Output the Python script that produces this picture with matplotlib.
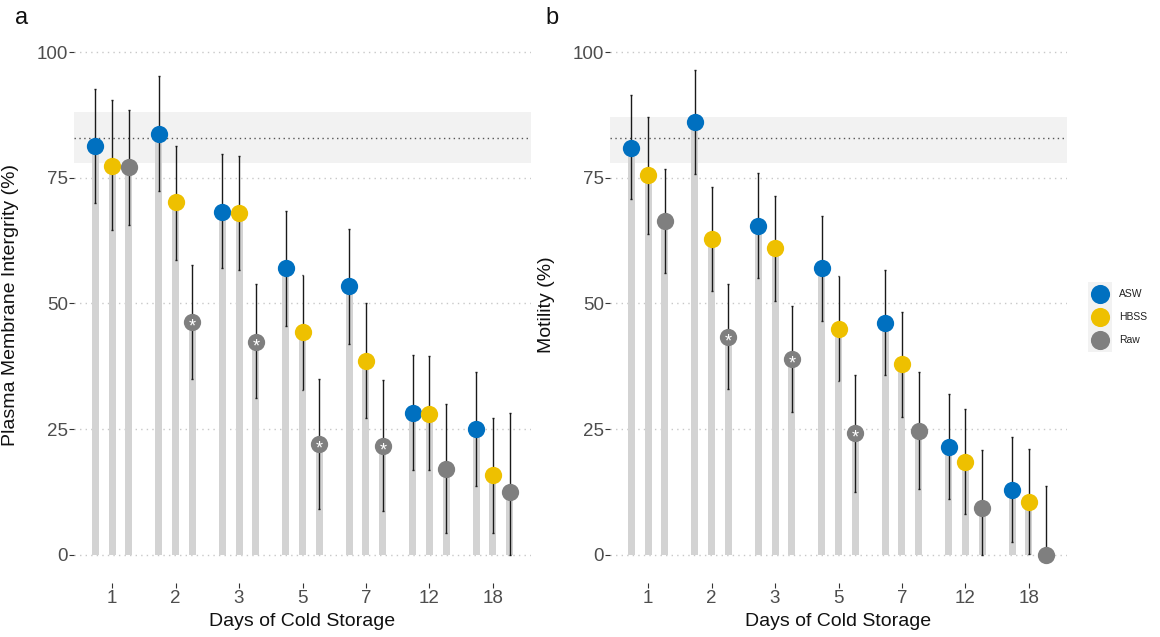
import matplotlib
matplotlib.use("Agg")
import matplotlib.pyplot as plt
import numpy as np

plt.rcParams['font.family'] = ['Liberation Sans', 'DejaVu Sans']

days = ['1', '2', '3', '5', '7', '12', '18']
groups = ['ASW', 'HBSS', 'Raw']
colors = {'ASW': '#0070C0', 'HBSS': '#EEC000', 'Raw': '#7F7F7F'}

# panel a: plasma membrane integrity (%)
pmi_mean = {
    'ASW':  [81.4, 83.8, 68.2, 57.0, 53.4, 28.2, 25.0],
    'HBSS': [77.4, 70.1, 68.1, 44.3, 38.6, 28.1, 15.8],
    'Raw':  [77.1, 46.3, 42.4, 22.1, 21.7, 17.1, 12.5],
}
pmi_lo = {
    'ASW':  [70.0, 72.4, 57.0, 45.6, 42.0, 16.9, 13.7],
    'HBSS': [64.7, 58.7, 56.7, 32.8, 27.2, 16.8, 4.4],
    'Raw':  [65.6, 34.9, 31.2, 9.1, 8.8, 4.3, 0.0],
}
pmi_hi = {
    'ASW':  [92.6, 95.2, 79.7, 68.4, 64.8, 39.8, 36.4],
    'HBSS': [90.4, 81.4, 79.4, 55.7, 50.1, 39.6, 27.2],
    'Raw':  [88.4, 57.7, 53.9, 34.9, 34.7, 30.0, 28.2],
}
pmi_sig = [1, 2, 3, 4]          # Raw days marked with *
pmi_fresh = (83.0, 78.0, 88.0)  # fresh reference mean, band low, band high

# panel b: motility (%)
mot_mean = {
    'ASW':  [81.0, 86.1, 65.5, 57.0, 46.2, 21.5, 12.9],
    'HBSS': [75.5, 62.8, 61.0, 44.9, 37.9, 18.5, 10.5],
    'Raw':  [66.4, 43.4, 38.9, 24.2, 24.7, 9.3, 0.0],
}
mot_lo = {
    'ASW':  [70.8, 75.8, 55.0, 46.6, 35.7, 11.1, 2.5],
    'HBSS': [63.8, 52.4, 50.5, 34.5, 27.4, 8.1, 0.2],
    'Raw':  [56.0, 33.0, 28.5, 12.5, 13.1, 0.0, 0.0],
}
mot_hi = {
    'ASW':  [91.5, 96.5, 75.9, 67.4, 56.6, 32.0, 23.4],
    'HBSS': [87.1, 73.2, 71.4, 55.4, 48.4, 29.0, 21.0],
    'Raw':  [76.8, 53.8, 49.5, 35.7, 36.4, 20.9, 13.6],
}
mot_sig = [1, 2, 3]
mot_fresh = (83.0, 78.0, 87.0)

W, H = 1160, 637
fig = plt.figure(figsize=(W / 100, H / 100), dpi=100)


def px_axes(left, right, top, bottom):
    return fig.add_axes([left / W, 1 - bottom / H, (right - left) / W, (bottom - top) / H])


def panel(ax, mean, lo, hi, sig, fresh, ylabel, letter, letter_x):
    x = np.arange(len(days))
    offs = {'ASW': -0.265, 'HBSS': 0.0, 'Raw': 0.265}
    ax.axhspan(fresh[1], fresh[2], color='#F2F2F2', zorder=0, lw=0)
    for v in [0, 25, 50, 75, 100]:
        ax.axhline(v, color='#C8C8C8', lw=1.0, ls=(0, (1, 3)), zorder=0.5)
    ax.axhline(fresh[0], color='#555555', lw=1.0, ls=(0, (1, 2.5)), zorder=0.6)
    for g in groups:
        xs = x + offs[g]
        m = np.array(mean[g])
        ax.bar(xs, m, width=0.11, color='#D3D3D3', zorder=1, lw=0)
        ax.vlines(xs, lo[g], hi[g], color='#1A1A1A', lw=1.0, zorder=2)
        ax.hlines(lo[g], xs - 0.015, xs + 0.015, color='#1A1A1A', lw=1.0, zorder=2)
        ax.hlines(hi[g], xs - 0.015, xs + 0.015, color='#1A1A1A', lw=1.0, zorder=2)
        ax.scatter(xs, m, s=155, color=colors[g], zorder=3, lw=0)
    for i in sig:
        ax.annotate('*', (x[i] + offs['Raw'], mean['Raw'][i]), xytext=(0, -3.5),
                    textcoords='offset points', ha='center', va='center',
                    color='white', fontsize=13, zorder=4)
    ax.set_xlim(-0.6, 6.6)
    ax.set_ylim(-5.6, 105)
    ax.set_xticks(x)
    ax.set_xticklabels(days)
    ax.set_yticks([0, 25, 50, 75, 100])
    for s in ax.spines.values():
        s.set_visible(False)
    ax.tick_params(axis='both', colors='#333333', length=3.5, width=0.8,
                   labelsize=13.5, labelcolor='#4D4D4D')
    ax.tick_params(axis='x', pad=1.5)
    ax.tick_params(axis='y', pad=1)
    ax.set_ylabel(ylabel, fontsize=14, color='#111111')
    ax.yaxis.set_label_coords(-0.12, 0.5)
    ax.text(0.5, -0.07, 'Days of Cold Storage', transform=ax.transAxes,
            ha='center', va='center', fontsize=14, color='#111111')
    ax.text(letter_x, 1.016, letter, transform=ax.transAxes,
            ha='center', va='center', fontsize=17, color='#111111')


ax_a = px_axes(74, 531, 27, 583)
panel(ax_a, pmi_mean, pmi_lo, pmi_hi, pmi_sig, pmi_fresh,
      'Plasma Membrane Intergrity (%)', 'a', -0.115)

ax_b = px_axes(610, 1067, 27, 583)
panel(ax_b, mot_mean, mot_lo, mot_hi, mot_sig, mot_fresh,
      'Motility (%)', 'b', -0.128)

# legend
lg = px_axes(1088, 1112, 282, 352)
lg.set_facecolor('#F2F2F2')
lg.set_xlim(0, 1)
lg.set_ylim(3, 0)
lg.set_xticks([])
lg.set_yticks([])
for s in lg.spines.values():
    s.set_visible(False)
for i, g in enumerate(groups):
    lg.scatter([0.5], [i + 0.5], s=190, color=colors[g], lw=0, clip_on=False)
    lg.text(1.3, i + 0.5, g, fontsize=7.5, va='center', ha='left', color='#222222')

fig.savefig('out.png', dpi=100)
